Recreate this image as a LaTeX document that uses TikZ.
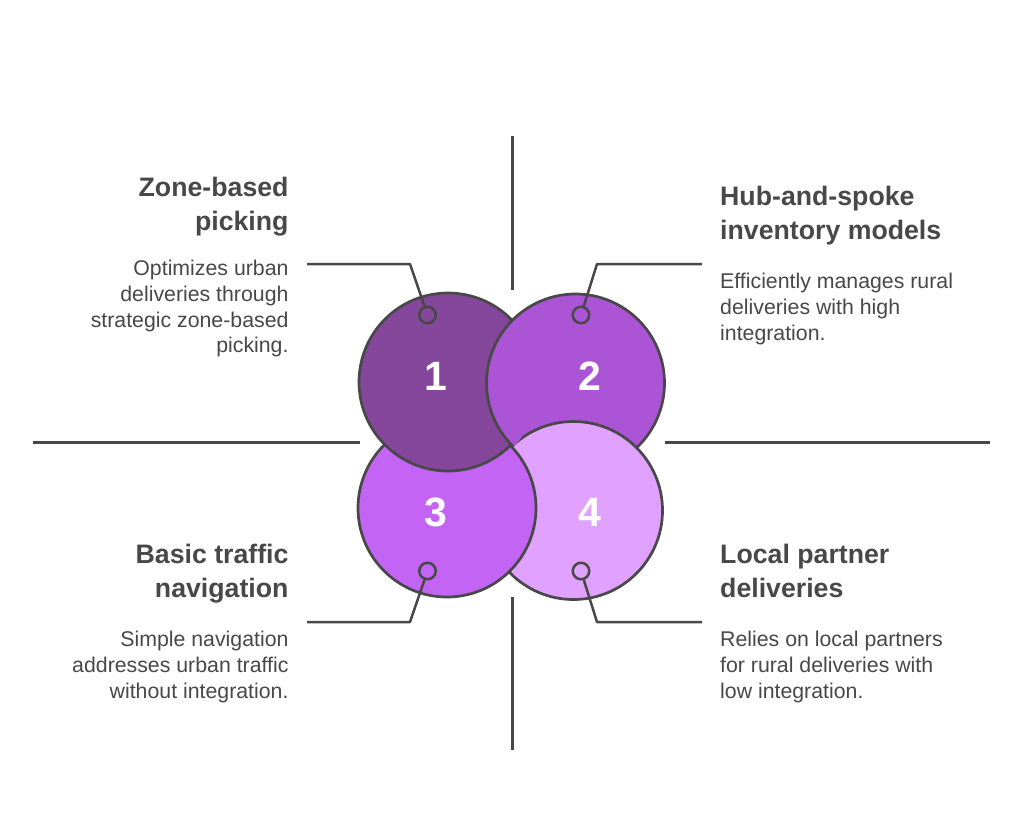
\documentclass[tikz,border=0pt]{standalone}
\usepackage{fontspec}
\setmainfont{Liberation Sans}
\definecolor{ink}{HTML}{484848}
\definecolor{cA}{HTML}{84479C}
\definecolor{cB}{HTML}{AB55D6}
\definecolor{cC}{HTML}{C364F5}
\definecolor{cD}{HTML}{E0A1FF}
\tikzset{
  bigdisc/.style={circle,draw=ink,line width=2.7pt,inner sep=0pt,minimum size=178pt},
  ringdot/.style={circle,draw=ink,line width=2.5pt,inner sep=0pt,minimum size=16.5pt},
  rule/.style={draw=ink,line width=2.7pt},
  lead/.style={draw=ink,line width=2.5pt,line join=round},
  numlabel/.style={text=white,font=\fontsize{41}{41}\selectfont\bfseries,inner sep=0pt},
  headR/.style={text=ink,font=\fontsize{26.7}{34}\selectfont\bfseries,align=right,anchor=north east,inner sep=0pt},
  headL/.style={text=ink,font=\fontsize{26.7}{34}\selectfont\bfseries,align=left,anchor=north west,inner sep=0pt},
  bodyR/.style={text=ink,font=\fontsize{21.3}{25.6}\selectfont,align=right,anchor=north east,inner sep=0pt},
  bodyL/.style={text=ink,font=\fontsize{21.3}{25.6}\selectfont,align=left,anchor=north west,inner sep=0pt},
}
\begin{document}
\begin{tikzpicture}[x=1pt,y=-1pt]
\useasboundingbox (0,0) rectangle (1024,835);
\fill[white] (0,0) rectangle (1024,835);
% cross rules
\coordinate (vt1) at (512.5,136); \coordinate (vt2) at (512.5,290);
\coordinate (vb1) at (512.5,597); \coordinate (vb2) at (512.5,750);
\coordinate (hl1) at (33,442.5);  \coordinate (hl2) at (360,442.5);
\coordinate (hr1) at (665,442.5); \coordinate (hr2) at (990,442.5);
\draw[rule] (vt1) -- (vt2);
\draw[rule] (vb1) -- (vb2);
\draw[rule] (hl1) -- (hl2);
\draw[rule] (hr1) -- (hr2);
% discs, cyclic overlap
\node[bigdisc,fill=cB] (d2) at (575.5,383) {};
\node[bigdisc,fill=cD] (d4) at (573.5,510.5) {};
\node[bigdisc,fill=cC] (d3) at (447,508) {};
\node[bigdisc,fill=cA] (d1) at (448,382) {};
\begin{scope}
  \clip (448,382) circle [radius=92pt];
  \node[bigdisc,fill=cB] (d2b) at (575.5,383) {};
\end{scope}
% numbers
\node[numlabel] (n1) at (436,376) {1};
\node[numlabel] (n2) at (590,376) {2};
\node[numlabel] (n3) at (436,512) {3};
\node[numlabel] (n4) at (590,512) {4};
% ring dots
\node[ringdot,fill=cA] (r1) at (427.5,315) {};
\node[ringdot,fill=cB] (r2) at (581,315) {};
\node[ringdot,fill=cC] (r3) at (427.5,571) {};
\node[ringdot,fill=cD] (r4) at (581,571) {};
% leaders
\coordinate (a1) at (307,264); \coordinate (b1) at (410,264);
\coordinate (a2) at (702,264); \coordinate (b2) at (597,264);
\coordinate (a3) at (307,622); \coordinate (b3) at (410,622);
\coordinate (a4) at (702,622); \coordinate (b4) at (597,622);
\draw[lead] (a1) -- (b1) -- (r1);
\draw[lead] (a2) -- (b2) -- (r2);
\draw[lead] (a3) -- (b3) -- (r3);
\draw[lead] (a4) -- (b4) -- (r4);
% text
\node[headR] (t1) at (288.7,177) {Zone-based\\picking};
\node[bodyR] (s1) at (288.7,260.3) {Optimizes urban\\deliveries through\\strategic zone-based\\picking.};
\node[headL] (t2) at (720,186) {Hub-and-spoke\\inventory models};
\node[bodyL] (s2) at (720,273.3) {Efficiently manages rural\\deliveries with high\\integration.};
\node[headR] (t3) at (288.7,544) {Basic traffic\\navigation};
\node[bodyR] (s3) at (288.7,631.3) {Simple navigation\\addresses urban traffic\\without integration.};
\node[headL] (t4) at (720,544) {Local partner\\deliveries};
\node[bodyL] (s4) at (720,631.3) {Relies on local partners\\for rural deliveries with\\low integration.};
\end{tikzpicture}
\end{document}
